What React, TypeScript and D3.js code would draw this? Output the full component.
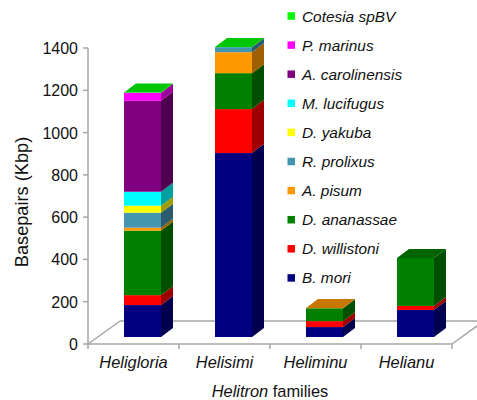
import React from "react";
import * as d3 from "d3";

const families = ["Heligloria", "Helisimi", "Heliminu", "Helianu"];
const species = ["B. mori", "D. willistoni", "D. ananassae", "A. pisum", "R. prolixus", "D. yakuba", "M. lucifugus", "A. carolinensis", "P. marinus", "Cotesia spBV"];
const speciesColors = ["#000080", "#ff0000", "#008000", "#ff9900", "#4495b0", "#ffff00", "#00ffff", "#800080", "#ff00ff", "#00ff00"];

// Kbp per species, in the same order as `species`
const heligloria = [151, 47, 305, 14, 71, 33, 66, 430, 38, 1];
const helisimi = [870, 208, 170, 99, 24, 0, 0, 0, 0, 1];
const heliminu = [47, 28, 61, 1, 0, 0, 0, 0, 0, 0];
const helianu = [128, 19, 227, 0, 0, 0, 0, 0, 0, 0];
const familyValues = [heligloria, helisimi, heliminu, helianu];

const yTicks = [0, 200, 400, 600, 800, 1000, 1200, 1400];

const W = 477;
const H = 400;
const axisX = 88;
const axisRight = 452;
const y0 = 344;
const y1400 = 48;
const depthX = 12;
const depthY = 9;
const floorDepthX = 32;
const floorDepthY = 23;
const barInset = 36;
const barWidth = 37;
const barLift = 7;
const axisColor = "#a6a6a6";
const sans = "'Liberation Sans', Arial, sans-serif";

const y = d3.scaleLinear().domain([0, 1400]).range([y0, y1400]);
const x = d3.scaleBand<string>().domain(families).range([axisX, axisRight]);
const kbpToPx = (v: number) => y(0) - y(v);

const shade = (c: string, k: number) => {
  const r = d3.rgb(c);
  return d3.rgb(r.r * k, r.g * k, r.b * k).formatHex();
};
const poly = (pts: number[][]) => pts.map((p) => p.join(",")).join(" ");

function Bar({ family, values }: { family: string; values: number[] }) {
  const left = (x(family) as number) + barInset;
  const right = left + barWidth;
  let base = y0 - barLift;
  const segments = species
    .map((s, i) => ({ s, v: values[i], color: speciesColors[i] }))
    .filter((d) => d.v > 0)
    .map((d) => {
      const bottom = base;
      base -= kbpToPx(d.v);
      return { ...d, bottom, top: base };
    });
  const last = segments[segments.length - 1];
  return (
    <g>
      {segments.map((d) => (
        <g key={d.s}>
          <rect x={left} y={d.top} width={barWidth} height={d.bottom - d.top} fill={d.color} />
          <polygon
            fill={shade(d.color, 0.62)}
            points={poly([
              [right, d.bottom],
              [right + depthX, d.bottom - depthY],
              [right + depthX, d.top - depthY],
              [right, d.top],
            ])}
          />
        </g>
      ))}
      <polygon
        fill={shade(last.color, 0.78)}
        points={poly([
          [left, last.top],
          [right, last.top],
          [right + depthX, last.top - depthY],
          [left + depthX, last.top - depthY],
        ])}
      />
    </g>
  );
}

export default function App() {
  const bandTicks = [...families.map((f) => x(f) as number), axisRight];
  return (
    <svg width={W} height={H} viewBox={`0 0 ${W} ${H}`} style={{ position: "absolute", left: 0, top: 0, background: "#fff" }} fontFamily={sans}>
      {/* floor of the 3D plot */}
      <g stroke={axisColor} strokeWidth={1.5} fill="none">
        <line x1={axisX} y1={y0} x2={axisX + floorDepthX} y2={y0 - floorDepthY} />
        <line x1={axisX + floorDepthX} y1={y0 - floorDepthY} x2={W} y2={y0 - floorDepthY} />
        <line x1={axisRight} y1={y0} x2={axisRight + floorDepthX} y2={y0 - floorDepthY} />
        <line x1={axisX} y1={y1400} x2={axisX} y2={y0} />
        <line x1={axisX} y1={y0} x2={axisRight} y2={y0} />
        {yTicks.map((t) => (
          <line key={t} x1={axisX - 5} x2={axisX} y1={y(t)} y2={y(t)} />
        ))}
        {bandTicks.map((t) => (
          <line key={t} x1={t} x2={t} y1={y0} y2={y0 + 5} />
        ))}
      </g>

      {families.map((f, i) => (
        <Bar key={f} family={f} values={familyValues[i]} />
      ))}

      {yTicks.map((t) => (
        <text key={t} x={axisX - 10} y={y(t) + 6} textAnchor="end" fontSize={16} fill="#111">
          {t}
        </text>
      ))}
      {families.map((f) => (
        <text key={f} x={(x(f) as number) + x.bandwidth() / 2} y={368} textAnchor="middle" fontSize={16.4} fontStyle="italic" fill="#111">
          {f}
        </text>
      ))}

      <text transform="translate(28,202) rotate(-90)" textAnchor="middle" fontSize={18.2} fill="#111">
        Basepairs (Kbp)
      </text>
      <text x={270} y={397} textAnchor="middle" fontSize={16.4} fill="#111">
        <tspan fontStyle="italic">Helitron</tspan> families
      </text>

      {/* legend, top series first */}
      {species
        .map((s, i) => ({ s, color: speciesColors[i], row: species.length - 1 - i }))
        .map((d) => {
          const cy = 16 + d.row * 29.1;
          return (
            <g key={d.s}>
              <rect x={287.5} y={cy - 3.75} width={7.5} height={7.5} fill={d.color} />
              <text x={302} y={cy + 5.5} fontSize={15.4} fontStyle="italic" fill="#111">
                {d.s}
              </text>
            </g>
          );
        })}
    </svg>
  );
}
